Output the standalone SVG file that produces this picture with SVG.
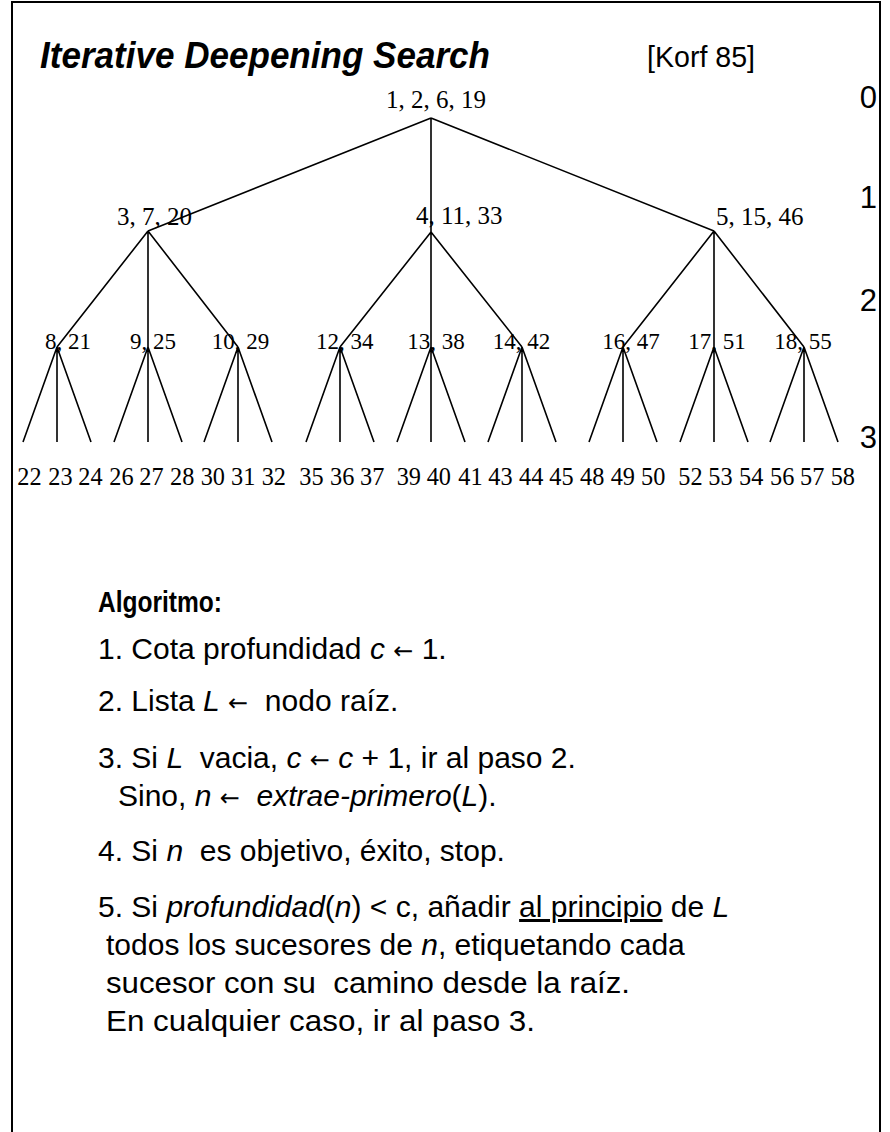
<svg xmlns="http://www.w3.org/2000/svg" width="890" height="1132" viewBox="0 0 890 1132">
<style>
.frame{fill:none;stroke:#000;stroke-width:2}
.edge{stroke:#000;stroke-width:1.6;fill:none}
.lbl{font-family:"Liberation Serif","Times New Roman",serif;font-size:23px;fill:#000}
.lbl1{font-family:"Liberation Serif","Times New Roman",serif;font-size:25px;fill:#000}
.leaf{font-family:"Liberation Serif","Times New Roman",serif;font-size:24.3px;fill:#000}
.lvl{font-family:"Liberation Sans",Arial,sans-serif;font-size:31px;fill:#000;text-anchor:end}
.alg{font-family:"Liberation Sans",Arial,sans-serif;font-size:30px;fill:#000}
.it{font-style:italic}
.ar{font-family:"DejaVu Sans",sans-serif;font-size:24px}
</style>
<rect width="890" height="1132" fill="#fff"/>
<path class="frame" d="M12,1132 V2 H880 V1132"/>
<g id="title">
<text x="40" y="68" font-family="Liberation Sans,Arial,sans-serif" font-size="37" font-weight="bold" font-style="italic" textLength="450" lengthAdjust="spacingAndGlyphs">Iterative Deepening Search</text>
<text x="647" y="67" font-family="Liberation Sans,Arial,sans-serif" font-size="30" textLength="108" lengthAdjust="spacingAndGlyphs">[Korf 85]</text>
</g>
<g id="levels">
<text class="lvl" x="877" y="108">0</text>
<text class="lvl" x="877" y="208">1</text>
<text class="lvl" x="877" y="311">2</text>
<text class="lvl" x="877" y="448">3</text>
</g>
<g id="connectors">
<path class="edge" d="M431,118 L148,231 M431,118 L431,232 M431,118 L714,231"/>
<path class="edge" d="M148,231 L57,347 M148,231 L148,347 M148,231 L238,347"/>
<path class="edge" d="M431,232 L340,347 M431,232 L431,347 M431,232 L522,347"/>
<path class="edge" d="M714,231 L623,347 M714,231 L714,347 M714,231 L804,347"/>
<path class="edge" d="M57,347 l-34,95 M57,347 v95 M57,347 l34,95
M148,347 l-34,95 M148,347 v95 M148,347 l34,95
M238,347 l-34,95 M238,347 v95 M238,347 l34,95
M340,347 l-34,95 M340,347 v95 M340,347 l34,95
M431,347 l-34,95 M431,347 v95 M431,347 l34,95
M522,347 l-34,95 M522,347 v95 M522,347 l34,95
M623,347 l-34,95 M623,347 v95 M623,347 l34,95
M714,347 l-34,95 M714,347 v95 M714,347 l34,95
M804,347 l-34,95 M804,347 v95 M804,347 l34,95"/>
</g>
<g id="n-root"><text class="lbl1" x="386" y="108" font-size="24">1, 2, 6, 19</text></g>
<g id="n-3"><text class="lbl1" x="117" y="225">3, 7, 20</text></g>
<g id="n-4"><text class="lbl1" x="416" y="224">4, 11, 33</text></g>
<g id="n-5"><text class="lbl1" x="716" y="225">5, 15, 46</text></g>
<g id="n-8"><text class="lbl" x="45" y="349">8, 21</text></g>
<g id="n-9"><text class="lbl" x="130" y="349">9, 25</text></g>
<g id="n-10"><text class="lbl" x="211.7" y="349">10, 29</text></g>
<g id="n-12"><text class="lbl" x="316" y="349">12, 34</text></g>
<g id="n-13"><text class="lbl" x="407.3" y="349">13, 38</text></g>
<g id="n-14"><text class="lbl" x="492.7" y="349">14, 42</text></g>
<g id="n-16"><text class="lbl" x="602.3" y="349">16, 47</text></g>
<g id="n-17"><text class="lbl" x="688.3" y="349">17, 51</text></g>
<g id="n-18"><text class="lbl" x="774.3" y="349">18, 55</text></g>
<g id="leaves">
<g id="l22"><text class="leaf" x="17.3" y="485">22</text></g>
<g id="l23"><text class="leaf" x="48.3" y="485">23</text></g>
<g id="l24"><text class="leaf" x="78.3" y="485">24</text></g>
<g id="l26"><text class="leaf" x="109.3" y="485">26</text></g>
<g id="l27"><text class="leaf" x="139.3" y="485">27</text></g>
<g id="l28"><text class="leaf" x="170" y="485">28</text></g>
<g id="l30"><text class="leaf" x="200.7" y="485">30</text></g>
<g id="l31"><text class="leaf" x="231" y="485">31</text></g>
<g id="l32"><text class="leaf" x="261.7" y="485">32</text></g>
<g id="l35"><text class="leaf" x="299.3" y="485">35</text></g>
<g id="l36"><text class="leaf" x="330" y="485">36</text></g>
<g id="l37"><text class="leaf" x="360" y="485">37</text></g>
<g id="l39"><text class="leaf" x="396.7" y="485">39</text></g>
<g id="l40"><text class="leaf" x="426.7" y="485">40</text></g>
<g id="l41"><text class="leaf" x="458.3" y="485">41</text></g>
<g id="l43"><text class="leaf" x="488.3" y="485">43</text></g>
<g id="l44"><text class="leaf" x="519" y="485">44</text></g>
<g id="l45"><text class="leaf" x="549.3" y="485">45</text></g>
<g id="l48"><text class="leaf" x="580" y="485">48</text></g>
<g id="l49"><text class="leaf" x="610.7" y="485">49</text></g>
<g id="l50"><text class="leaf" x="641" y="485">50</text></g>
<g id="l52"><text class="leaf" x="678.3" y="485">52</text></g>
<g id="l53"><text class="leaf" x="708.3" y="485">53</text></g>
<g id="l54"><text class="leaf" x="739" y="485">54</text></g>
<g id="l56"><text class="leaf" x="770" y="485">56</text></g>
<g id="l57"><text class="leaf" x="800" y="485">57</text></g>
<g id="l58"><text class="leaf" x="830.7" y="485">58</text></g>
</g>
<g id="algorithm">
<text class="alg" x="98" y="612" font-weight="bold" font-size="29" textLength="124" lengthAdjust="spacingAndGlyphs">Algoritmo:</text>
<text class="alg" x="98" y="659">1. Cota profundidad <tspan class="it">c</tspan> <tspan class="ar">←</tspan> 1.</text>
<text class="alg" x="98" y="711" xml:space="preserve">2. Lista <tspan class="it">L</tspan> <tspan class="ar">←</tspan>  nodo raíz.</text>
<text class="alg" x="98" y="768" xml:space="preserve">3. Si <tspan class="it">L</tspan>  vacia, <tspan class="it">c</tspan> <tspan class="ar">←</tspan> <tspan class="it">c</tspan> + 1, ir al paso 2.</text>
<text class="alg" x="118" y="806" xml:space="preserve">Sino, <tspan class="it">n</tspan> <tspan class="ar">←</tspan>  <tspan class="it">extrae-primero</tspan>(<tspan class="it">L</tspan>).</text>
<text class="alg" x="98" y="861" xml:space="preserve">4. Si <tspan class="it">n</tspan>  es objetivo, éxito, stop.</text>
<text class="alg" x="98" y="917">5. Si <tspan class="it">profundidad</tspan>(<tspan class="it">n</tspan>) &lt; c, añadir <tspan text-decoration="underline">al principio</tspan> de <tspan class="it">L</tspan></text>
<text class="alg" x="106" y="955">todos los sucesores de <tspan class="it">n</tspan>, etiquetando cada</text>
<text class="alg" x="106" y="993" xml:space="preserve" textLength="524" lengthAdjust="spacingAndGlyphs">sucesor con su  camino desde la raíz.</text>
<text class="alg" x="106" y="1031" textLength="429" lengthAdjust="spacingAndGlyphs">En cualquier caso, ir al paso 3.</text>
</g>
</svg>
